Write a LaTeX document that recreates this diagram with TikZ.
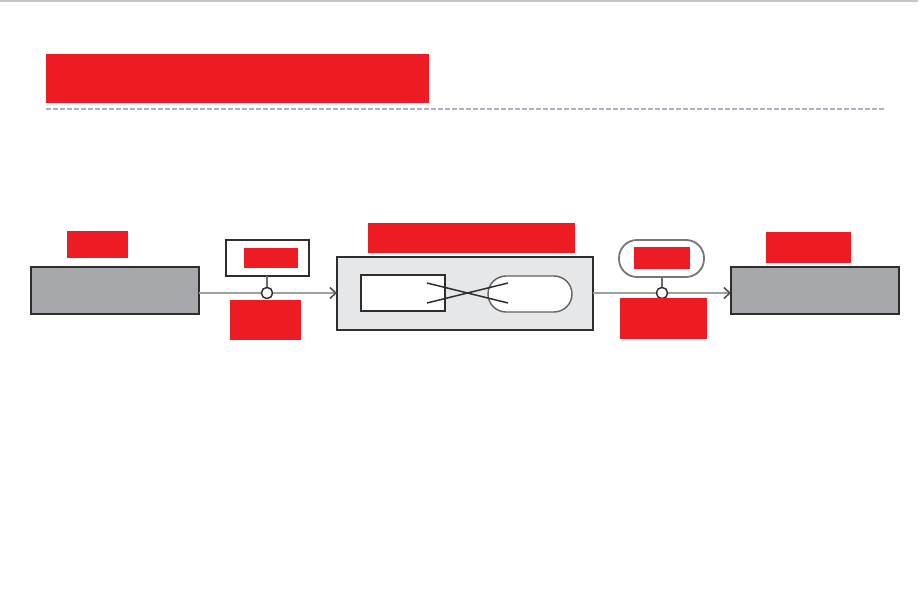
\documentclass[tikz,border=0pt]{standalone}
\usetikzlibrary{arrows.meta}
\definecolor{redact}{HTML}{ED1C24}
\definecolor{boxgray}{HTML}{A7A8AB}
\definecolor{panel}{HTML}{E6E7E8}
\definecolor{linegray}{HTML}{A0A0A0}
\definecolor{edgedark}{HTML}{2E2E2E}
\definecolor{rulegray}{HTML}{C6C6C6}
\definecolor{dashblue}{HTML}{A9B4BF}
\tikzset{
  redbox/.style={fill=redact, draw=none},
  graybox/.style={fill=boxgray, draw=edgedark, line width=1.6pt},
  panelbox/.style={fill=panel, draw=edgedark, line width=1.6pt},
  whitebox/.style={fill=white, draw=edgedark, line width=1.5pt},
  pillbox/.style={fill=white, draw=edgedark!75, line width=1.4pt, rounded corners=18pt},
  flow/.style={draw=linegray, line width=2.2pt},
  flowarrow/.style={flow, -{Straight Barb[length=6pt,width=11pt,line width=1.5pt,color=edgedark!85]}},
  stem/.style={draw=edgedark!70, line width=1.8pt},
  joint/.style={circle, draw=edgedark, fill=white, line width=1.3pt, inner sep=0pt, minimum size=11pt},
  crossline/.style={draw=edgedark, line width=1.5pt},
}
\begin{document}
\begin{tikzpicture}[x=1pt,y=-1pt]
\useasboundingbox (0,0) rectangle (919,599);
\fill[white] (0,0) rectangle (919,599);
% top rule and dashed separator
\draw[rulegray, line width=2pt] (0,1) -- (918,1);
\draw[dashblue, line width=1.2pt, dash pattern=on 5pt off 2pt] (46,109) -- (884,109);
% title redaction
\path[redbox] (46,54) rectangle (429,103);

% left source box
\draw[graybox] (31,267) rectangle (199,314);
\coordinate (srcE) at (199,293);
\path[redbox] (67,231) rectangle (128,258);

% central panel
\draw[panelbox] (337,257) rectangle (593,330);
\coordinate (panW) at (337,293);
\coordinate (panE) at (593,293);
\path[redbox] (368,223) rectangle (575,253);
\draw[whitebox] (361,275) rectangle (445,311);
\draw[pillbox] (488,276) rectangle (572,312);
\draw[crossline] (427,283) -- (508,303);
\draw[crossline] (427,303) -- (508,283);

% right target box
\draw[graybox] (731,267) rectangle (899,314);
\coordinate (tgtW) at (731,293);
\path[redbox] (766,232) rectangle (851,263);

% left connector
\node[joint] (j1) at (267,293) {};
\draw[flowarrow] (srcE) -- (j1) -- (panW);
\draw[whitebox] (226,240) rectangle (309,276);
\coordinate (b1S) at (267,276);
\draw[stem] (b1S) -- (j1.north);
\node[joint] at (267,293) {};
\path[redbox] (244,248) rectangle (298,268);
\path[redbox] (230,300) rectangle (301,340);

% right connector
\node[joint] (j2) at (662,293) {};
\draw[flowarrow] (panE) -- (j2) -- (tgtW);
\draw[pillbox, draw=edgedark!65, line width=1.8pt] (619,240) rectangle (704,277);
\coordinate (b2S) at (662,277);
\draw[stem] (b2S) -- (j2.north);
\node[joint] at (662,293) {};
\path[redbox] (634,247) rectangle (690,269);
\path[redbox] (620,298) rectangle (707,339);
\end{tikzpicture}
\end{document}
